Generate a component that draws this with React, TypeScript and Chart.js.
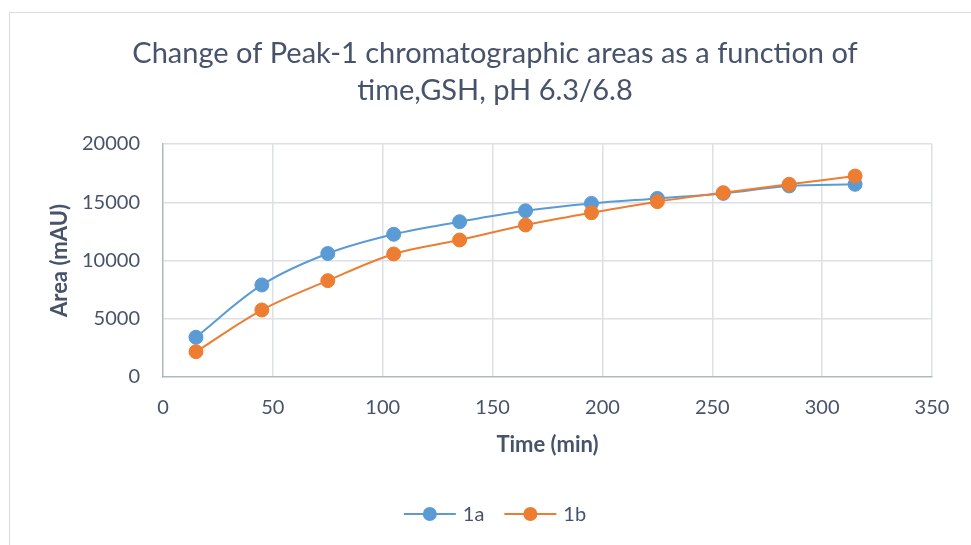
import React, { useEffect, useRef } from "react";
import { Chart, registerables } from "chart.js";

Chart.register(...registerables);

// Sampling times (min)
const timeMin = [15, 45, 75, 105, 135, 165, 195, 225, 255, 285, 315];
// Peak-1 chromatographic area (mAU) per series
const area1a = [3410, 7900, 10600, 12250, 13330, 14270, 14900, 15330, 15760, 16400, 16540];
const area1b = [2170, 5750, 8270, 10560, 11760, 13050, 14100, 15050, 15820, 16540, 17250];

const seriesLabels = ["1a", "1b"];
const titleLines = ["Change of Peak-1 chromatographic areas as a function of", "time,GSH, pH 6.3/6.8"];
const xTitle = "Time (min)";
const yTitle = "Area (mAU)";

const BLUE = "#5B9BD5";
const ORANGE = "#ED7D31";
const TEXT = "#47536a";
const GRID = "#dcdfe4";
const AXIS = "#aeb7c4";
const FONT = "Lato, 'Open Sans', sans-serif";

// Title and line-with-marker legend, centred on the outer frame
const decorPlugin = {
  id: "decor",
  afterDraw(chart: Chart) {
    const ctx = chart.ctx;
    const cx = 495;
    ctx.save();
    ctx.fillStyle = TEXT;
    ctx.textAlign = "center";
    ctx.textBaseline = "alphabetic";
    ctx.font = `29px ${FONT}`;
    ctx.fillText(titleLines[0], cx, 63);
    ctx.fillText(titleLines[1], cx, 100);

    ctx.font = `20px ${FONT}`;
    const lineW = 52;
    const gap = 7;
    const itemGap = 20;
    const ds = chart.data.datasets;
    const widths = ds.map((d) => lineW + gap + ctx.measureText(String(d.label)).width);
    const total = widths.reduce((s, w) => s + w, 0) + itemGap * (ds.length - 1);
    let x = cx - total / 2;
    const y = 514;
    ds.forEach((d, i) => {
      const col = d.borderColor as string;
      ctx.strokeStyle = col;
      ctx.lineWidth = 2;
      ctx.beginPath();
      ctx.moveTo(x, y);
      ctx.lineTo(x + lineW, y);
      ctx.stroke();
      ctx.fillStyle = col;
      ctx.beginPath();
      ctx.arc(x + lineW / 2, y, 7, 0, Math.PI * 2);
      ctx.fill();
      ctx.fillStyle = TEXT;
      ctx.textAlign = "left";
      ctx.textBaseline = "middle";
      ctx.fillText(String(d.label), x + lineW + gap, y + 1);
      x += widths[i] + itemGap;
    });
    ctx.restore();
  },
};

export default function App() {
  const canvasRef = useRef<HTMLCanvasElement | null>(null);

  useEffect(() => {
    if (!canvasRef.current) return;
    const gridColor = (c: any) => (c.tick && c.tick.value === 0 ? "rgba(0,0,0,0)" : GRID);
    const chart = new Chart(canvasRef.current, {
      type: "line",
      data: {
        datasets: [
          {
            label: seriesLabels[0],
            data: timeMin.map((t, i) => ({ x: t, y: area1a[i] })),
            borderColor: BLUE,
            backgroundColor: BLUE,
            borderWidth: 2,
            pointRadius: 7,
            pointBorderWidth: 1,
            pointBorderColor: BLUE,
            pointBackgroundColor: BLUE,
            tension: 0.35,
            order: 1,
          },
          {
            label: seriesLabels[1],
            data: timeMin.map((t, i) => ({ x: t, y: area1b[i] })),
            borderColor: ORANGE,
            backgroundColor: ORANGE,
            borderWidth: 2,
            pointRadius: 7,
            pointBorderWidth: 1,
            pointBorderColor: ORANGE,
            pointBackgroundColor: ORANGE,
            tension: 0.35,
            order: 0,
          },
        ],
      },
      options: {
        animation: false,
        responsive: false,
        devicePixelRatio: 1,
        layout: { padding: { top: 144, left: 43, right: 39, bottom: 83 } },
        plugins: {
          legend: { display: false },
          title: { display: false },
          tooltip: { enabled: false },
        },
        scales: {
          x: {
            type: "linear",
            min: 0,
            max: 350,
            afterFit: (s: any) => {
              s.height = 85;
            },
            ticks: {
              stepSize: 50,
              padding: 19,
              color: TEXT,
              font: { family: FONT, size: 20 },
              callback: (v: any) => String(v),
            },
            grid: { color: gridColor, drawTicks: false, lineWidth: 1.5 },
            border: { color: AXIS, width: 1.5 },
            title: {
              display: true,
              text: xTitle,
              color: TEXT,
              font: { family: FONT, size: 22, weight: "bold" },
            },
          },
          y: {
            type: "linear",
            min: 0,
            max: 20000,
            afterFit: (s: any) => {
              s.width = 120;
            },
            ticks: {
              stepSize: 5000,
              padding: 23,
              color: TEXT,
              font: { family: FONT, size: 20 },
              callback: (v: any) => String(v),
            },
            grid: { color: gridColor, drawTicks: false, lineWidth: 1.5 },
            border: { color: AXIS, width: 1.5 },
            title: {
              display: true,
              text: yTitle,
              color: TEXT,
              font: { family: FONT, size: 22, weight: "bold" },
            },
          },
        },
      },
      plugins: [decorPlugin],
    });
    return () => chart.destroy();
  }, []);

  return (
    <div style={{ position: "absolute", left: 0, top: 0, width: 971, height: 545, overflow: "hidden", background: "#fff" }}>
      <div
        style={{
          position: "absolute",
          left: 9,
          top: 12,
          width: 990,
          height: 600,
          border: "1px solid #d9dde3",
          boxSizing: "border-box",
        }}
      />
      <canvas ref={canvasRef} width={971} height={545} style={{ position: "absolute", left: 0, top: 0 }} />
    </div>
  );
}
